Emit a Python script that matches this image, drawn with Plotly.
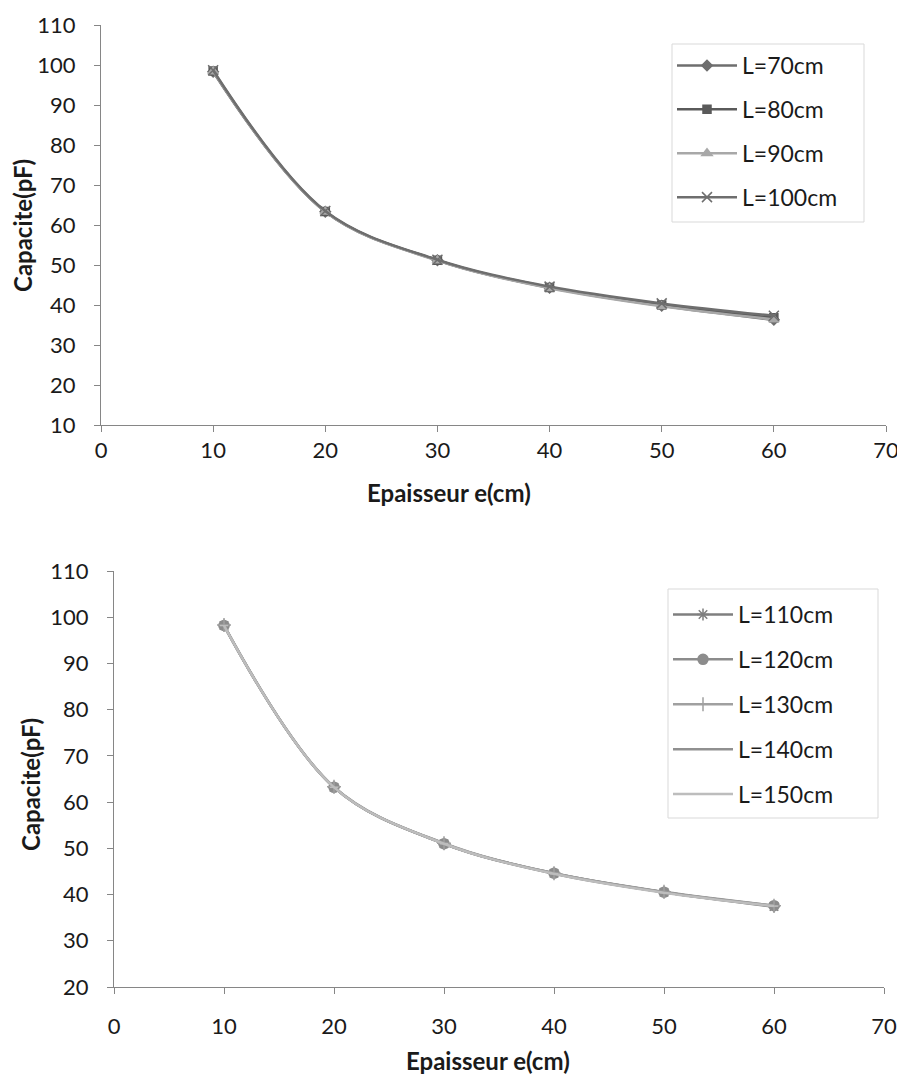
import plotly.graph_objects as go

thickness = [10, 20, 30, 40, 50, 60]

# Top chart series
cap_L70 = [98.3, 63.3, 51.2, 44.3, 39.8, 36.3]
cap_L80 = [98.5, 63.4, 51.2, 44.4, 40.0, 36.8]
cap_L90 = [98.4, 63.3, 51.1, 44.2, 39.7, 36.4]
cap_L100 = [98.7, 63.5, 51.3, 44.6, 40.4, 37.3]

# Bottom chart series
cap_L110 = [98.2, 63.2, 51.0, 44.6, 40.5, 37.4]
cap_L120 = [98.2, 63.2, 51.0, 44.6, 40.5, 37.6]
cap_L130 = [98.3, 63.3, 51.1, 44.6, 40.6, 37.6]
cap_L140 = [98.2, 63.2, 51.0, 44.5, 40.5, 37.5]
cap_L150 = [98.2, 63.2, 51.0, 44.5, 40.4, 37.5]

FONT = "Lato"
W, H = 905, 1075
OFF = 8  # page body margin
TICK = 22
LEG = 23
TITLE = 24

fig = go.Figure()

top = [
    ("L=70cm", cap_L70, "#6e6e6e", "diamond", 8),
    ("L=80cm", cap_L80, "#5a5a5a", "square", 8),
    ("L=90cm", cap_L90, "#a8a8a8", "triangle-up", 9),
    ("L=100cm", cap_L100, "#6e6e6e", "x-thin-open", 10),
]
for i, (name, vals, col, sym, sz) in enumerate(top):
    fig.add_trace(go.Scatter(
        x=thickness, y=vals, name=name, mode="lines+markers",
        line=dict(color=col, width=2.5, shape="spline", smoothing=1.0),
        marker=dict(symbol=sym, size=sz, color=col, line=dict(color=col, width=1.5)),
        xaxis="x", yaxis="y", legend="legend", legendgroup="t%d" % i,
    ))

bottom = [
    ("L=110cm", cap_L110, "#7f7f7f", "asterisk-open", 10),
    ("L=120cm", cap_L120, "#8c8c8c", "circle", 10),
    ("L=130cm", cap_L130, "#a0a0a0", "cross-thin-open", 10),
    ("L=140cm", cap_L140, "#909090", "line-ew-open", 6),
    ("L=150cm", cap_L150, "#bdbdbd", "line-ew-open", 6),
]
for i, (name, vals, col, sym, sz) in enumerate(bottom):
    fig.add_trace(go.Scatter(
        x=thickness, y=vals, name=name, mode="lines+markers",
        line=dict(color=col, width=2.5, shape="spline", smoothing=1.0),
        marker=dict(symbol=sym, size=sz, color=col, line=dict(color=col, width=1.5)),
        xaxis="x2", yaxis="y2", legend="legend2", legendgroup="b%d" % i,
    ))

axis_common = dict(
    showline=True, linecolor="#868686", linewidth=1,
    ticks="outside", ticklen=6, tickcolor="#868686",
    showgrid=False, zeroline=False, automargin=False,
    tickfont=dict(family=FONT, size=TICK, color="#1a1a1a"),
)

def px_x(p):
    return (p - OFF) / W

def px_y(p):
    return 1 - (p - OFF) / H

def box(x0, y0, x1, y1):
    return dict(type="rect", xref="paper", yref="paper",
                x0=px_x(x0), x1=px_x(x1), y0=px_y(y1), y1=px_y(y0),
                line=dict(color="#d9d9d9", width=1), fillcolor="white",
                layer="below")

fig.update_layout(
    template="none",
    width=W, height=H,
    margin=dict(l=0, r=0, t=0, b=0),
    paper_bgcolor="white", plot_bgcolor="rgba(0,0,0,0)",
    font=dict(family=FONT, size=TICK, color="#1a1a1a"),
    xaxis=dict(domain=[px_x(101), px_x(886)], range=[0, 70], dtick=10,
               anchor="y", ticklabelstandoff=0, **axis_common),
    yaxis=dict(domain=[px_y(425), px_y(25)], range=[10, 110], dtick=10,
               anchor="x", ticklabelstandoff=14, **axis_common),
    xaxis2=dict(domain=[px_x(114), px_x(884)], range=[0, 70], dtick=10,
                anchor="y2", ticklabelstandoff=14, **axis_common),
    yaxis2=dict(domain=[px_y(987), px_y(571)], range=[20, 110], dtick=10,
                anchor="x2", ticklabelstandoff=14, **axis_common),
    legend=dict(x=px_x(672), y=px_y(44), xanchor="left", yanchor="top",
                borderwidth=0, bgcolor="rgba(0,0,0,0)",
                font=dict(family=FONT, size=LEG), tracegroupgap=11,
                itemwidth=60),
    legend2=dict(x=px_x(668), y=px_y(593), xanchor="left", yanchor="top",
                 borderwidth=0, bgcolor="rgba(0,0,0,0)",
                 font=dict(family=FONT, size=LEG), tracegroupgap=12,
                 itemwidth=60),
    showlegend=True,
    shapes=[box(672, 44, 864, 222), box(668, 589, 878, 818)],
    annotations=[
        dict(text="<b>Epaisseur e(cm)</b>", x=px_x(449), y=px_y(492),
             xref="paper", yref="paper", showarrow=False,
             xanchor="center", yanchor="middle",
             font=dict(family=FONT, size=TITLE)),
        dict(text="<b>Capacite(pF)</b>", x=px_x(22), y=px_y(226),
             xref="paper", yref="paper", showarrow=False, textangle=-90,
             xanchor="center", yanchor="middle",
             font=dict(family=FONT, size=TITLE)),
        dict(text="<b>Epaisseur e(cm)</b>", x=px_x(488), y=px_y(1060),
             xref="paper", yref="paper", showarrow=False,
             xanchor="center", yanchor="middle",
             font=dict(family=FONT, size=TITLE)),
        dict(text="<b>Capacite(pF)</b>", x=px_x(30), y=px_y(785),
             xref="paper", yref="paper", showarrow=False, textangle=-90,
             xanchor="center", yanchor="middle",
             font=dict(family=FONT, size=TITLE)),
    ],
)

fig.write_html("out.html")
